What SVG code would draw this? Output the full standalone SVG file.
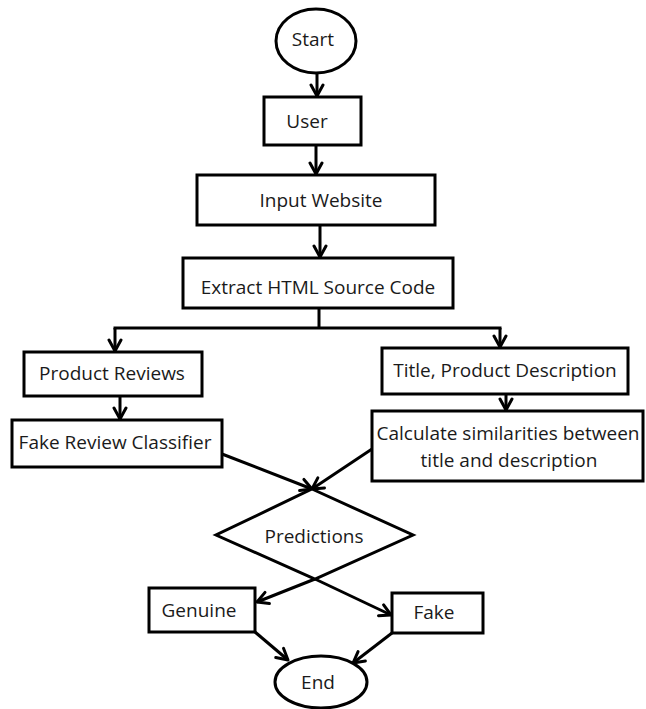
<svg xmlns="http://www.w3.org/2000/svg" width="646" height="709" viewBox="0 0 646 709">
<defs>
<marker id="arr" markerUnits="userSpaceOnUse" markerWidth="16" markerHeight="16" viewBox="0 0 16 16" refX="13" refY="8" orient="auto">
<path d="M2,2 L13,8 L2,14" fill="none" stroke="#000" stroke-width="3" stroke-linecap="round" stroke-linejoin="round"/>
</marker>
<style>
.s{fill:#fff;stroke:#000;stroke-width:3}
.t{font-family:"Open Sans","Noto Sans",sans-serif;font-size:19px;fill:#1a1a1a;text-anchor:middle}
.c{fill:none;stroke:#000;stroke-width:3}
</style>
</defs>
<rect width="646" height="709" fill="#fff"/>
<g id="connectors">
<line class="c" x1="317" y1="73" x2="317" y2="96" marker-end="url(#arr)"/>
<line class="c" x1="316" y1="145" x2="316" y2="174" marker-end="url(#arr)"/>
<line class="c" x1="320" y1="225" x2="320" y2="257" marker-end="url(#arr)"/>
<line class="c" x1="319" y1="308" x2="319" y2="328"/>
<line class="c" x1="113.5" y1="328" x2="501.5" y2="328"/>
<line class="c" x1="115" y1="328" x2="115" y2="351" marker-end="url(#arr)"/>
<line class="c" x1="500" y1="328" x2="500" y2="347" marker-end="url(#arr)"/>
<line class="c" x1="120" y1="396" x2="120" y2="419" marker-end="url(#arr)"/>
<line class="c" x1="506" y1="394" x2="506" y2="410" marker-end="url(#arr)"/>
<line class="c" x1="222" y1="454" x2="312" y2="489" marker-end="url(#arr)"/>
<line class="c" x1="372" y1="449" x2="312" y2="489" marker-end="url(#arr)"/>
<line class="c" x1="315" y1="579" x2="257" y2="602" marker-end="url(#arr)"/>
<line class="c" x1="315" y1="579" x2="391" y2="615" marker-end="url(#arr)"/>
<line class="c" x1="255" y1="632" x2="288" y2="660" marker-end="url(#arr)"/>
<line class="c" x1="392" y1="633" x2="353" y2="663" marker-end="url(#arr)"/>
</g>
<g id="start">
<ellipse class="s" cx="316" cy="41" rx="40" ry="32"/>
<text class="t" x="313" y="46">Start</text>
</g>
<g id="user">
<rect class="s" x="264" y="97" width="97" height="48"/>
<text class="t" x="307" y="128">User</text>
</g>
<g id="input">
<rect class="s" x="197" y="175" width="238" height="50"/>
<text class="t" x="321" y="207">Input Website</text>
</g>
<g id="extract">
<rect class="s" x="183" y="258" width="270" height="50"/>
<text class="t" x="318" y="294">Extract HTML Source Code</text>
</g>
<g id="reviews">
<rect class="s" x="24" y="352" width="178" height="44"/>
<text class="t" x="112" y="380">Product Reviews</text>
</g>
<g id="classifier">
<rect class="s" x="12" y="420" width="210" height="47"/>
<text class="t" x="115" y="449">Fake Review Classifier</text>
</g>
<g id="title">
<rect class="s" x="382" y="348" width="246" height="46"/>
<text class="t" x="505" y="377">Title, Product Description</text>
</g>
<g id="similarity">
<rect class="s" x="372" y="411" width="271" height="70"/>
<text class="t" x="508" y="440">Calculate similarities between</text>
<text class="t" x="509" y="467">title and description</text>
</g>
<g id="predictions">
<polygon class="s" points="312,489 413,535 315,579 216,535"/>
<text class="t" x="314" y="543">Predictions</text>
</g>
<g id="genuine">
<rect class="s" x="149" y="588" width="106" height="44"/>
<text class="t" x="199" y="617">Genuine</text>
</g>
<g id="fake">
<rect class="s" x="392" y="593" width="91" height="40"/>
<text class="t" x="434" y="619">Fake</text>
</g>
<g id="end">
<ellipse class="s" cx="321" cy="682" rx="46" ry="26"/>
<text class="t" x="318" y="689">End</text>
</g>
</svg>
